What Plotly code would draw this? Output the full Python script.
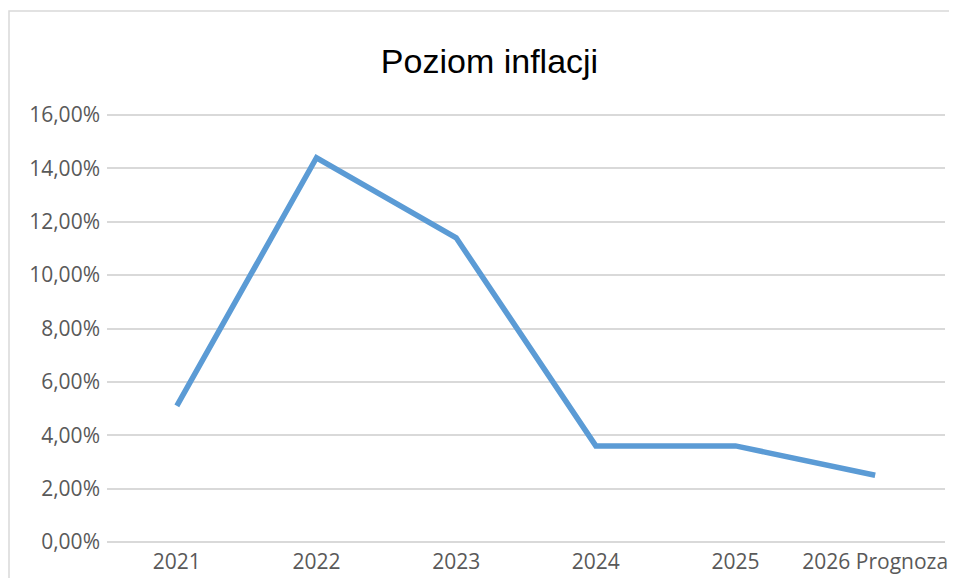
import plotly.graph_objects as go

categories = ["2021", "2022", "2023", "2024", "2025", "2026 Prognoza"]
inflation = [5.1, 14.4, 11.4, 3.6, 3.6, 2.5]
y_ticks = [0, 2, 4, 6, 8, 10, 12, 14, 16]
y_tick_labels = ["0,00%", "2,00%", "4,00%", "6,00%", "8,00%", "10,00%", "12,00%", "14,00%", "16,00%"]

# page body has an 8px margin, so figure coords = screen coords - 8
OFF = 8
W, H = 957 - OFF, 578 - OFF
L, R, T, B = 107 - OFF, W - (945 - OFF), 114 - OFF, H - (543 - OFF)
pw, ph = W - L - R, H - T - B

fig = go.Figure()
fig.add_trace(go.Scatter(
    x=categories, y=inflation, mode="lines",
    line=dict(color="#5B9BD5", width=5.5),
    hoverinfo="skip", showlegend=False, cliponaxis=False,
))

fig.update_layout(
    width=W, height=H,
    margin=dict(l=L, r=R, t=T, b=B, pad=0, autoexpand=False),
    paper_bgcolor="white", plot_bgcolor="white",
    title=dict(
        text="Poziom inflacji",
        font=dict(family="Liberation Sans, Arial", size=34, color="#000000"),
        x=(489.5 - 107) / pw, xref="paper", xanchor="center",
        y=1 - (61 - OFF) / H, yref="container", yanchor="middle",
    ),
    xaxis=dict(
        type="category", range=[-0.5, len(categories) - 0.5],
        showgrid=False, zeroline=False, showline=False,
        tickfont=dict(family="Open Sans", size=21, color="#595959"),
        ticks="", ticklabelstandoff=4, automargin=False,
    ),
    yaxis=dict(
        range=[-0.04, 16.04], tickvals=y_ticks, ticktext=y_tick_labels,
        showgrid=True, gridcolor="#D9D9D9", gridwidth=1.5,
        zeroline=False, showline=False,
        tickfont=dict(family="Open Sans", size=21, color="#595959"),
        ticks="", ticklabelstandoff=6, automargin=False,
    ),
    shapes=[dict(
        type="rect", xref="paper", yref="paper",
        x0=(9 - 107) / pw, x1=1.2, y0=-0.3, y1=1 + (114 - 11) / ph,
        line=dict(color="#D9D9D9", width=1.5), fillcolor="rgba(0,0,0,0)",
        layer="below",
    )],
)

fig.write_html("out.html")
